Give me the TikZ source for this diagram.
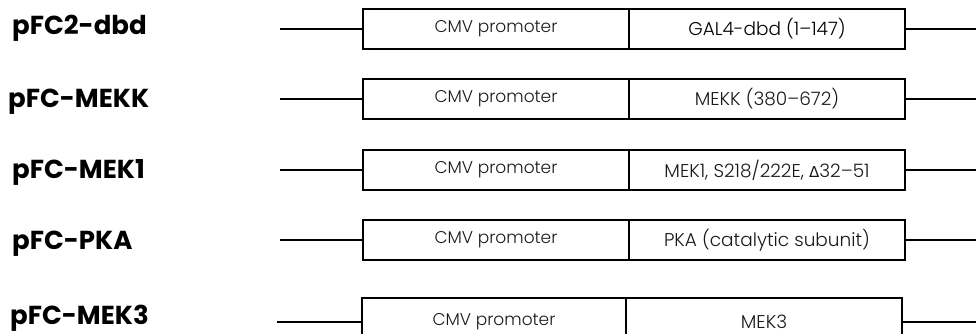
\documentclass[tikz,border=0pt]{standalone}
\usepackage{fontspec}
\setmainfont{Poppins}
\newfontfamily\lightfont{Poppins Light}
\newfontfamily\deltafont{DejaVu Sans}
\usetikzlibrary{positioning}

\begin{document}
\begin{tikzpicture}[x=1pt,y=-1pt,%%
  nameStyle/.style={anchor=base west,inner sep=0pt,font=\bfseries\fontsize{26}{26}\selectfont},%%
  boxStyle/.style={draw,line width=1.2pt,inner sep=0pt,outer sep=0pt,minimum height=40pt,%%
    font=\lightfont\fontsize{17}{17}\selectfont,text=black!90},%%
  promoterStyle/.style={boxStyle,minimum width=266pt,anchor=west},%%
  insertStyle/.style={boxStyle,minimum width=276pt,font=\lightfont\fontsize{18.5}{18.5}\selectfont},%%
  lineStyle/.style={-,line width=1.8pt}%%
]
%%
\useasboundingbox (0,0) rectangle (976,334);
%%
\pgfmathsetmacro{\xline}{280}  %% where the left line starts
\pgfmathsetmacro{\xbox}{363}   %% left edge of the promoter box
\pgfmathsetmacro{\xend}{976}   %% where the right line stops
%% Rows.
\pgfmathsetmacro{\ya}{29}
\pgfmathsetmacro{\yb}{99}
\pgfmathsetmacro{\yc}{170}
\pgfmathsetmacro{\yd}{240}
\pgfmathsetmacro{\ye}{322}
%%
%% Construct names.
\node[nameStyle] (nameA) at (12,35) {pFC2-dbd};
\node[nameStyle] (nameB) at (8,108) {pFC-MEKK};
\node[nameStyle] (nameC) at (12,178) {pFC-MEK1};
\node[nameStyle] (nameD) at (12,249) {pFC-PKA};
\node[nameStyle] (nameE) at (10,324) {pFC-MEK3};
%%
%% Row pFC2-dbd.
\node[promoterStyle] (promA) at (\xbox,\ya) {CMV promoter};
\node[insertStyle,right=0pt of promA,text=black] (insA) {GAL4-dbd (1–147)};
\coordinate (startA) at (\xline,\ya);
\coordinate (endA) at (\xend,\ya);
\draw[lineStyle] (startA) -- (promA.west);
\draw[lineStyle] (insA.east) -- (endA);
%%
%% Row pFC-MEKK.
\node[promoterStyle] (promB) at (\xbox,\yb) {CMV promoter};
\node[insertStyle,right=0pt of promB] (insB) {MEKK (380–672)};
\coordinate (startB) at (\xline,\yb);
\coordinate (endB) at (\xend,\yb);
\draw[lineStyle] (startB) -- (promB.west);
\draw[lineStyle] (insB.east) -- (endB);
%%
%% Row pFC-MEK1.
\node[promoterStyle] (promC) at (\xbox,\yc) {CMV promoter};
\node[insertStyle,right=0pt of promC] (insC) {MEK1, S218/222E, {\deltafont\fontsize{15}{15}\selectfont Δ}32–51};
\coordinate (startC) at (\xline,\yc);
\coordinate (endC) at (\xend,\yc);
\draw[lineStyle] (startC) -- (promC.west);
\draw[lineStyle] (insC.east) -- (endC);
%%
%% Row pFC-PKA.
\node[promoterStyle] (promD) at (\xbox,\yd) {CMV promoter};
\node[insertStyle,right=0pt of promD] (insD) {PKA (catalytic subunit)};
\coordinate (startD) at (\xline,\yd);
\coordinate (endD) at (\xend,\yd);
\draw[lineStyle] (startD) -- (promD.west);
\draw[lineStyle] (insD.east) -- (endD);
%%
%% Row pFC-MEK3, its boxes are a bit taller.
\node[promoterStyle,minimum height=48pt,minimum width=264pt] (promE) at (\xbox-1,\ye) {CMV promoter};
\node[insertStyle,minimum height=48pt,right=0pt of promE] (insE) {MEK3};
\coordinate (startE) at (\xline-3,\ye);
\coordinate (endE) at (\xend,\ye);
\draw[lineStyle] (startE) -- (promE.west);
\draw[lineStyle] (insE.east) -- (endE);
\end{tikzpicture}
\end{document}
